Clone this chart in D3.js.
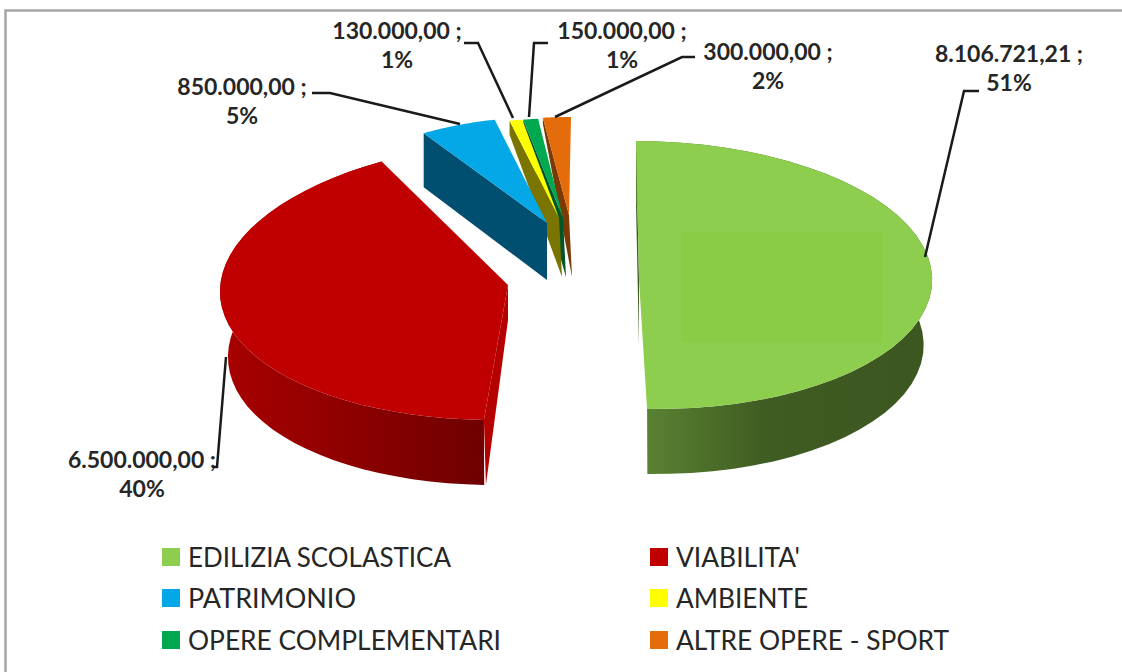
<!DOCTYPE html>
<html>
<head>
<meta charset="utf-8">
<script src="https://cdn.jsdelivr.net/npm/d3@7"></script>
<style>
html, body { margin: 0; padding: 0; background: #fff; }
svg { display: block; }
</style>
</head>
<body>
<svg width="1122" height="672"></svg>
<script>
// data
var categories = ['EDILIZIA SCOLASTICA', "VIABILITA'", 'PATRIMONIO', 'AMBIENTE', 'OPERE COMPLEMENTARI', 'ALTRE OPERE - SPORT'];
var amounts = [8106721.21, 6500000, 850000, 130000, 150000, 300000];
var percents = ['51%', '40%', '5%', '1%', '1%', '2%'];

// look of each slice, same order as categories
var faceColors = ['#8dce4e', '#c00000', '#05a8e6', '#ffff00', '#00a850', '#e46c0a'];
var wallColors = ['#4b6b2a', '#8c0000', '#004f70', '#7a7400', '#00562a', '#7a3a05'];

// exploded, skewed 3d pie: every slice has its own ellipse and tip
// rimRx is the narrower width of the lower rim on the two big slices
var sliceShapes = [
    {cx: 646.5, cy: 275, rx: 285.5, rimRx: 277, ry: 134, shear: 0.078, tip: [639, 280], depth: 65, startDepth: 65},
    {cx: 519, cy: 280, rx: 298, rimRx: 290, ry: 140, shear: -0.177, tip: [508, 285], depth: 65, startDepth: 65},
    {cx: 547, cy: 223, rx: 232, ry: 106, shear: 0, tip: [547, 223], depth: 57, startDepth: 54},
    {cx: 567, cy: 224, rx: 255, ry: 106, shear: 0, tip: [559, 218], depth: 59, startDepth: 14},
    {cx: 568, cy: 224, rx: 255, ry: 106, shear: 0, tip: [563, 218], depth: 59, startDepth: 8},
    {cx: 571, cy: 224, rx: 240, ry: 107, shear: 0, tip: [569, 215], depth: 62, startDepth: 6}
];

// label anchor (x, y of first line) and leader line of each slice
var labelSpots = [[1009, 62], [142, 468], [242, 95], [397, 39], [622, 39], [768, 60]];
var leaders = [
    [[925, 257], [964, 91], [979, 91]],
    [[226, 357], [217, 467], [214, 467]],
    [[460, 124], [330, 93], [312, 93]],
    [[513, 118], [478, 43], [464, 43]],
    [[529, 117], [534, 43], [548, 43]],
    [[555, 117], [682, 57], [695, 57]]
];

var legendSpots = [[162, 557, 451], [650, 557, 800], [162, 598, 356], [650, 598, 808], [162, 640, 501], [650, 640, 949]];

var svg = d3.select('svg');
var defs = svg.append('defs');

// frame round the chart, no right side visible in the original
svg.append('path')
    .attr('d', 'M5.5,672V10.5H1122')
    .attr('fill', 'none')
    .attr('stroke', '#a6a6a6')
    .attr('stroke-width', 2.5);

var pie = d3.pie().sort(null).startAngle(0).endAngle(2 * Math.PI);
var arcs = pie(amounts);

function edgePoint(s, a, dy, rx) {
    var y = -s.ry * Math.cos(a);
    return [s.cx + rx * Math.sin(a) + s.shear * y, s.cy + y + dy];
}

function arcPoints(s, d, dy, rx) {
    return d3.range(0, 41).map(function(i) {
        return edgePoint(s, d.startAngle + (d.endAngle - d.startAngle) * i / 40, dy, rx);
    });
}

var line = d3.line();

// outer walls get a horizontal shading like the original
function wallGradient(id, stops, x1, x2) {
    var g = defs.append('linearGradient')
        .attr('id', id)
        .attr('gradientUnits', 'userSpaceOnUse')
        .attr('x1', x1).attr('x2', x2).attr('y1', 0).attr('y2', 0);
    stops.forEach(function(st) {
        g.append('stop').attr('offset', st[0]).attr('stop-color', st[1]);
    });
    return 'url(#' + id + ')';
}

var wallFills = wallColors.slice();
wallFills[0] = wallGradient('wallGreen', [[0, '#5a8232'], [0.42, '#3f5c22'], [1, '#3c5620']], 645, 932);
wallFills[1] = wallGradient('wallRed', [[0, '#a80000'], [0.45, '#900000'], [1, '#6e0000']], 220, 485);

// orange first, blue last so the walls overlap as in the picture
var drawOrder = [0, 1, 5, 4, 3, 2];

drawOrder.forEach(function(i) {
    var s = sliceShapes[i];
    var d = arcs[i];
    var top = arcPoints(s, d, 0, s.rx);
    var start = top[0];

    // side cut faces
    if (i == 1) {
        // red shows its cut on the right, running down from the tip
        svg.append('path')
            .attr('d', line([s.tip, start, [start[0] + 2, start[1] + s.depth], [s.tip[0], s.tip[1] + 35]]) + 'Z')
            .attr('fill', '#b50000');
    } else {
        svg.append('path')
            .attr('d', line([start, [start[0], start[1] + s.startDepth], [s.tip[0] + (i > 2 ? 3 : 0), s.tip[1] + s.depth], s.tip]) + 'Z')
            .attr('fill', i == 0 ? '#3f5c22' : wallColors[i]);
    }

    // outer wall, only worth drawing for the two big slices
    if (i < 2) {
        var wall = top.concat(arcPoints(s, d, s.depth, s.rimRx).reverse());
        svg.append('path')
            .attr('d', line(wall) + 'Z')
            .attr('fill', wallFills[i]);
    }

    svg.append('path')
        .attr('d', line(top.concat([s.tip])) + 'Z')
        .attr('fill', faceColors[i]);
});

// faint lighter patch that sits on the green face of the original
svg.append('rect')
    .attr('x', 682).attr('y', 232)
    .attr('width', 201).attr('height', 110)
    .attr('fill', '#89cc45');

// leader lines
svg.selectAll('.leader')
    .data(leaders).enter()
    .append('path')
    .attr('class', 'leader')
    .attr('d', function(d) { return line(d); })
    .attr('fill', 'none')
    .attr('stroke', '#1a1a1a')
    .attr('stroke-width', 2.5);

// labels
var itLocale = d3.formatLocale({decimal: ',', thousands: '.', grouping: [3], currency: ['', '']});
var amountFormat = itLocale.format(',.2f');

labelSpots.forEach(function(p, i) {
    var t = svg.append('text')
        .attr('x', p[0]).attr('y', p[1])
        .attr('text-anchor', 'middle')
        .attr('font-family', 'Lato, sans-serif')
        .attr('font-weight', 700)
        .attr('font-size', 23)
        .attr('fill', '#262626');
    t.append('tspan').text(amountFormat(amounts[i]) + ' ;');
    t.append('tspan').attr('x', p[0]).attr('dy', 29).text(percents[i]);
});

// legend
var legend = svg.selectAll('.legend')
    .data(categories).enter()
    .append('g')
    .attr('class', 'legend');

legend.append('rect')
    .attr('x', function(d, i) { return legendSpots[i][0]; })
    .attr('y', function(d, i) { return legendSpots[i][1] - 9; })
    .attr('width', 18)
    .attr('height', 18)
    .attr('fill', function(d, i) { return faceColors[i]; });

legend.append('text')
    .attr('x', function(d, i) { return legendSpots[i][0] + 26; })
    .attr('y', function(d, i) { return legendSpots[i][1] + 10; })
    .attr('textLength', function(d, i) { return legendSpots[i][2] - legendSpots[i][0] - 26; })
    .attr('lengthAdjust', 'spacingAndGlyphs')
    .attr('font-family', 'Lato, sans-serif')
    .attr('font-size', 27)
    .attr('fill', '#262626')
    .text(function(d) { return d; });
</script>
</body>
</html>
